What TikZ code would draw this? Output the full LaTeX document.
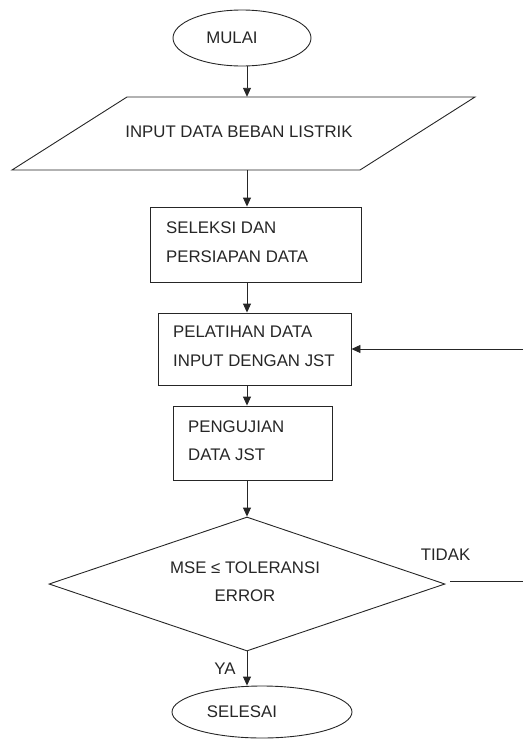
\documentclass[tikz,border=0pt]{standalone}
\usepackage{fontspec}
\setmainfont{Liberation Sans}
\usetikzlibrary{shapes.geometric,arrows.meta}
\begin{document}
\begin{tikzpicture}[x=1pt,y=-1pt,
  every node/.style={font=\fontsize{16.8}{28.5}\selectfont, text=black!85},
  line/.style={draw=black!85, line width=0.9pt},
  arr/.style={line, -{Triangle[length=9pt,width=8pt]}},
  term/.style={line, ellipse, inner sep=0pt},
  procbox/.style={line, rectangle, inner sep=0pt, align=left}]
\useasboundingbox (0,0) rectangle (523,740);
% terminator start
\node[term, minimum width=138pt, minimum height=56pt] (mulai) at (242,38) {};
\node (mulaitext) at (232,38) {MULAI};
% input parallelogram
\coordinate (p1) at (127,97);
\coordinate (p2) at (475,97);
\coordinate (p3) at (360,170);
\coordinate (p4) at (12,170);
\draw[line] (p1) -- (p2) -- (p3) -- (p4) -- cycle;
\node[minimum height=73pt, minimum width=100pt, inner sep=0pt] (input) at (247,133.5) {};
\node (inputtext) at (239,132) {INPUT DATA BEBAN LISTRIK};
% process boxes
\node[procbox, minimum width=211pt, minimum height=75pt] (seleksi) at (255.5,244.5) {};
\node[anchor=west, align=left, inner sep=0pt] (seleksitext) at (166,242) {SELEKSI DAN\\PERSIAPAN DATA};
\node[procbox, minimum width=193pt, minimum height=72pt] (pelatihan) at (254.5,349) {};
\node[anchor=west, align=left, inner sep=0pt] (pelatihantext) at (173,346.5) {PELATIHAN DATA\\INPUT DENGAN JST};
\node[procbox, minimum width=159pt, minimum height=74pt] (pengujian) at (252.5,443) {};
\node[anchor=west, align=left, inner sep=0pt] (pengujiantext) at (188,440.5) {PENGUJIAN\\DATA JST};
% decision
\node[line, diamond, minimum width=396pt, minimum height=134pt, inner sep=0pt, align=center] (decision) at (247,584) {};
\node[align=center, inner sep=0pt] (dectext) at (245,581.5) {MSE ≤ TOLERANSI\\ERROR};
% end terminator
\node[term, minimum width=180pt, minimum height=52pt] (selesai) at (262,712) {};
\node (selesaitext) at (242,712) {SELESAI};
% connectors
\draw[arr] (mulai.south -| input.north) -- (input.north);
\draw[arr] (input.south) -- (input.south |- seleksi.north);
\draw[arr] (input.south |- seleksi.south) -- (input.south |- pelatihan.north);
\draw[arr] (input.south |- pelatihan.south) -- (input.south |- pengujian.north);
\draw[arr] (input.south |- pengujian.south) -- (decision.north);
\draw[arr] (decision.south) -- (decision.south |- selesai.north);
\coordinate (r1) at (523,349);
\draw[arr] (r1) -- (pelatihan.east);
\coordinate (d2) at (450,581);
\coordinate (r2) at (523,581);
\draw[line] (d2) -- (r2);
% labels
\node (tidak) at (445.5,555) {TIDAK};
\node (ya) at (225,669) {YA};
\end{tikzpicture}
\end{document}
